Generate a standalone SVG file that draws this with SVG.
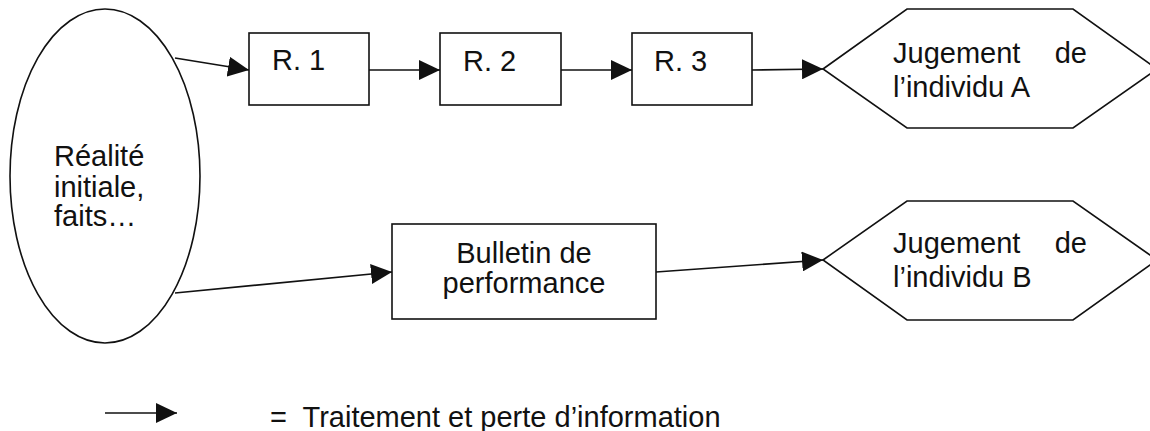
<svg xmlns="http://www.w3.org/2000/svg" width="1150" height="431" viewBox="0 0 1150 431">
<style>
.s{fill:#fff;stroke:#111;stroke-width:1.6}
.t{font-family:"Liberation Sans",Arial,sans-serif;font-size:29px;fill:#111}
.c{stroke:#111;stroke-width:1.6;fill:none;marker-end:url(#ah)}
</style>
<defs>
<marker id="ah" markerUnits="userSpaceOnUse" markerWidth="22" markerHeight="20" refX="21" refY="10" orient="auto" viewBox="0 0 22 20">
<path d="M0,0 L21,10 L0,20 z" fill="#111"/>
</marker>
</defs>
<rect width="1150" height="431" fill="#fff"/>
<g id="connectors">
<line class="c" x1="175" y1="58" x2="249" y2="70"/>
<line class="c" x1="369" y1="70" x2="440" y2="70"/>
<line class="c" x1="561" y1="70" x2="632" y2="70"/>
<line class="c" x1="752" y1="70" x2="823" y2="69"/>
<line class="c" x1="175" y1="293" x2="392" y2="272"/>
<line class="c" x1="656" y1="272" x2="823" y2="260"/>
</g>
<g id="realite">
<ellipse class="s" cx="105" cy="176" rx="95" ry="167"/>
<text class="t"><tspan x="54" y="166">Réalité</tspan><tspan x="54" y="197">initiale,</tspan><tspan x="54" y="226">faits…</tspan></text>
</g>
<g id="r1">
<rect class="s" x="249" y="33" width="120" height="72"/>
<text class="t" x="272" y="70">R. 1</text>
</g>
<g id="r2">
<rect class="s" x="440" y="33" width="121" height="72"/>
<text class="t" x="463" y="71">R. 2</text>
</g>
<g id="r3">
<rect class="s" x="632" y="33" width="120" height="72"/>
<text class="t" x="654" y="71">R. 3</text>
</g>
<g id="jugementA">
<polygon class="s" points="823,69 907,9 1073,9 1157,69 1073,128 907,128"/>
<text class="t"><tspan x="893" y="63">Jugement</tspan><tspan x="1087" y="63" text-anchor="end">de</tspan><tspan x="893" y="97">l’individu A</tspan></text>
</g>
<g id="bulletin">
<rect class="s" x="392" y="224" width="264" height="95"/>
<text class="t" text-anchor="middle"><tspan x="524" y="263">Bulletin de</tspan><tspan x="524" y="293">performance</tspan></text>
</g>
<g id="jugementB">
<polygon class="s" points="823,260 907,201 1073,201 1157,260 1073,320 907,320"/>
<text class="t"><tspan x="893" y="253">Jugement</tspan><tspan x="1087" y="253" text-anchor="end">de</tspan><tspan x="893" y="287">l’individu B</tspan></text>
</g>
<g id="legend">
<line class="c" x1="105" y1="413" x2="177" y2="413"/>
<text class="t" x="270" y="427" xml:space="preserve">=  Traitement et perte d’information</text>
</g>
</svg>
